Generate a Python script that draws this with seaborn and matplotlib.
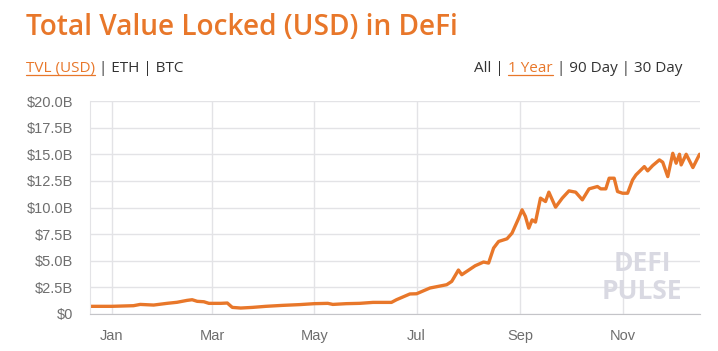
import pandas as pd
import matplotlib
matplotlib.use("Agg")
import matplotlib.pyplot as plt
import matplotlib.dates as mdates
from matplotlib.lines import Line2D
import seaborn as sns

# TVL in billions USD
dates = ["2019-12-19", "2020-01-01", "2020-01-14", "2020-01-18", "2020-01-26", "2020-02-03",
         "2020-02-09", "2020-02-15", "2020-02-18", "2020-02-21", "2020-02-25", "2020-02-28",
         "2020-03-06", "2020-03-10", "2020-03-12", "2020-03-13", "2020-03-18", "2020-03-25",
         "2020-04-02", "2020-04-12", "2020-04-22", "2020-05-01", "2020-05-09", "2020-05-12",
         "2020-05-20", "2020-05-28", "2020-06-05", "2020-06-16", "2020-06-19", "2020-06-27",
         "2020-07-01", "2020-07-09", "2020-07-19", "2020-07-22", "2020-07-26", "2020-07-28",
         "2020-08-05", "2020-08-10", "2020-08-13", "2020-08-16", "2020-08-19", "2020-08-24",
         "2020-08-27", "2020-08-31", "2020-09-02", "2020-09-04", "2020-09-06", "2020-09-08",
         "2020-09-10", "2020-09-13", "2020-09-16", "2020-09-18", "2020-09-22", "2020-09-26",
         "2020-09-30", "2020-10-04", "2020-10-08", "2020-10-12", "2020-10-17", "2020-10-19",
         "2020-10-22", "2020-10-24", "2020-10-27", "2020-10-29", "2020-11-01", "2020-11-04",
         "2020-11-07", "2020-11-09", "2020-11-14", "2020-11-16", "2020-11-19", "2020-11-23",
         "2020-11-25", "2020-11-28", "2020-12-01", "2020-12-03", "2020-12-05", "2020-12-06",
         "2020-12-09", "2020-12-13", "2020-12-17"]
tvl = [0.72, 0.72, 0.78, 0.90, 0.84, 1.00,
       1.10, 1.28, 1.34, 1.19, 1.15, 1.00,
       1.00, 1.03, 0.75, 0.62, 0.56, 0.62,
       0.72, 0.81, 0.88, 0.97, 1.00, 0.90,
       0.97, 1.00, 1.09, 1.09, 1.34, 1.88,
       1.90, 2.44, 2.75, 3.06, 4.13, 3.69,
       4.53, 4.88, 4.78, 6.19, 6.81, 7.06,
       7.59, 9.00, 9.78, 9.16, 8.06, 8.84,
       8.63, 10.88, 10.56, 11.44, 10.03, 10.88,
       11.56, 11.44, 10.72, 11.75, 11.97, 11.75,
       11.75, 12.75, 12.75, 11.50, 11.34, 11.34,
       12.59, 13.06, 13.84, 13.44, 13.94, 14.47,
       14.25, 12.90, 15.09, 14.16, 15.00, 14.00,
       15.00, 13.75, 15.00]

yticks = [0, 2.5, 5, 7.5, 10, 12.5, 15, 17.5, 20]
ytick_labels = ["$0", "$2.5B", "$5.0B", "$7.5B", "$10.0B", "$12.5B", "$15.0B", "$17.5B", "$20.0B"]

df = pd.DataFrame({"date": pd.to_datetime(dates), "tvl": tvl})

orange = "#e8772a"
grid_c = "#e3e3e6"
label_c = "#6e6e6e"

sns.set_style("white")
plt.rcParams["font.family"] = ["Liberation Sans", "DejaVu Sans"]

fig = plt.figure(figsize=(7.18, 3.51), dpi=100)
ax = fig.add_axes([90 / 718, 37 / 351, 610 / 718, 213 / 351])

sns.lineplot(x="date", y="tvl", data=df, ax=ax, color=orange, linewidth=2.4)

ax.set_xlim(pd.Timestamp("2019-12-19"), pd.Timestamp("2020-12-17 06:00"))
ax.set_ylim(0, 20)
ax.set_yticks(yticks)
ax.set_yticklabels(ytick_labels)
ax.xaxis.set_major_locator(mdates.MonthLocator(bymonth=[1, 3, 5, 7, 9, 11]))
ax.xaxis.set_major_formatter(mdates.DateFormatter("%b"))
ax.set_xlabel("")
ax.set_ylabel("")

ax.grid(True, color=grid_c, linewidth=1)
ax.set_axisbelow(True)
ax.tick_params(axis="y", length=10, color=grid_c, labelcolor=label_c, labelsize=10.5, pad=2)
ax.tick_params(axis="x", length=7, color=grid_c, labelcolor=label_c, labelsize=10.5, pad=4)
for s in ["top", "right"]:
    ax.spines[s].set_visible(False)
ax.spines["left"].set_color(grid_c)
ax.spines["bottom"].set_color("#c4c4c8")

# watermark
ax.text(0.905, 0.235, "DEFI", transform=ax.transAxes, ha="center", va="center",
        fontsize=19, fontweight="bold", color="#d9d9e2", family="Open Sans")
ax.text(0.905, 0.105, "PULSE", transform=ax.transAxes, ha="center", va="center",
        fontsize=19, fontweight="bold", color="#d9d9e2", family="Open Sans")

# header
fig.text(26 / 718, 1 - 35 / 351, "Total Value Locked (USD) in DeFi", color=orange,
         fontsize=20.2, fontweight="semibold", family="Open Sans", va="baseline")

fig.canvas.draw()
renderer = fig.canvas.get_renderer()
W, H = fig.bbox.width, fig.bbox.height


def run_text(x, y, parts, align="left"):
    # draw pieces of text side by side, underlining the highlighted ones
    texts = []
    cur = x
    for s, col, ul in parts:
        t = fig.text(cur, y, s, color=col, fontsize=11, family="Open Sans", va="baseline")
        bb = t.get_window_extent(renderer)
        texts.append((t, ul, col))
        cur = bb.x1 / W
    if align == "right":
        shift = x - cur
        for t, ul, col in texts:
            t.set_x(t.get_position()[0] + shift)
    fig.canvas.draw()
    for t, ul, col in texts:
        if ul:
            b = t.get_window_extent(renderer)
            fig.add_artist(Line2D([b.x0 / W, b.x1 / W], [(y * H - 3) / H] * 2,
                                  color=col, linewidth=0.9))


run_text(26 / 718, 1 - 72 / 351,
         [("TVL (USD)", orange, True), (" | ETH | BTC", "#333333", False)])
run_text(682 / 718, 1 - 72 / 351,
         [("All | ", "#333333", False), ("1 Year", orange, True),
          (" | 90 Day | 30 Day", "#333333", False)], align="right")

fig.savefig("out.png", dpi=100)
